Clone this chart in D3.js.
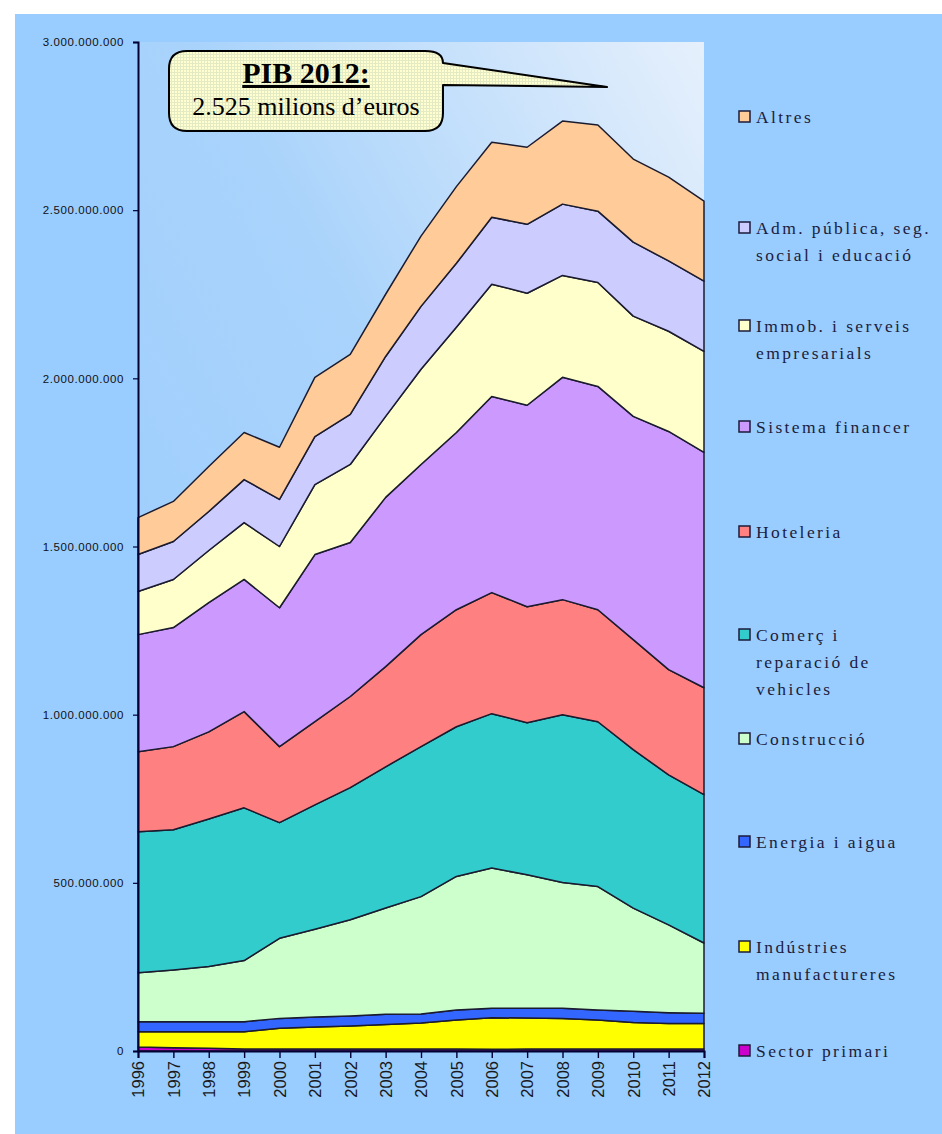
<!DOCTYPE html>
<html><head><meta charset="utf-8">
<script src="https://cdn.jsdelivr.net/npm/d3@7"></script>
<style>html,body{margin:0;padding:0;background:#fff;}svg{display:block;}</style>
</head><body>
<script>
// ---- DATA (millions of euros) ----
const years = [1996,1997,1998,1999,2000,2001,2002,2003,2004,2005,2006,2007,2008,2009,2010,2011,2012];
const sectorPrimari   = [12,10,8,6,6,6,6,6,6,6,5,6,6,6,6,6,6];
const industries      = [45,47,49,51,62,65,68,73,77,86,94,92,91,86,79,76,76];
const energia         = [30,30,30,30,29,30,30,30,27,30,28,29,30,30,33,32,30];
const construccio     = [146,154,164,182,238,261,286,316,349,397,417,397,374,367,307,261,209];
const comerc          = [419,417,439,454,344,370,393,420,446,445,459,452,499,490,471,446,441];
const hoteleria       = [238,247,259,286,226,247,271,298,333,348,360,345,342,333,327,313,318];
const sistemaFinancer = [348,354,384,393,413,497,458,503,506,527,583,599,661,664,664,708,700];
const immob           = [128,143,155,169,182,208,232,241,283,313,334,333,303,309,298,298,300];
const admPublica      = [110,113,116,128,140,143,149,178,187,190,199,205,212,212,220,209,209];
const altres          = [110,119,134,140,155,176,178,185,209,228,223,229,247,256,247,249,238];

const seriesKeys = ["primari","industries","energia","construccio","comerc","hoteleria","sistema","immob","adm","altres"];
const seriesValues = [sectorPrimari,industries,energia,construccio,comerc,hoteleria,sistemaFinancer,immob,admPublica,altres];
const seriesColors = ["#CC00CC","#FFFF00","#3366FF","#CCFFCC","#33CCCC","#FF8080","#CC99FF","#FFFFCC","#CCCCFF","#FFCC99"];
const legendLabels = [
  ["Sector primari"],
  ["Indústries","manufactureres"],
  ["Energia i aigua"],
  ["Construcció"],
  ["Comerç i","reparació de","vehicles"],
  ["Hoteleria"],
  ["Sistema financer"],
  ["Immob. i serveis","empresarials"],
  ["Adm. pública, seg.","social i educació"],
  ["Altres"]
];
const yTicks = [0,500,1000,1500,2000,2500,3000];
const calloutTitle = "PIB 2012:";
const calloutText = "2.525 milions d\u2019euros";

// ---- LAYOUT ----
const W = 942, H = 1134;
const pLeft = 138, pRight = 704, pTop = 42, pBottom = 1051;

const svg = d3.select("body").append("svg").attr("width", W).attr("height", H);
const defs = svg.append("defs");

const grad = defs.append("linearGradient").attr("id","plotGrad")
  .attr("x1","0").attr("y1","1").attr("x2","1").attr("y2","0");
grad.append("stop").attr("offset","0").attr("stop-color","#99CCFF");
grad.append("stop").attr("offset","0.55").attr("stop-color","#a9d3fb");
grad.append("stop").attr("offset","1").attr("stop-color","#e6f0fc");

const pat = defs.append("pattern").attr("id","calloutPat").attr("patternUnits","userSpaceOnUse")
  .attr("width",3).attr("height",3);
pat.append("rect").attr("width",3).attr("height",3).attr("fill","#ffffcf");
pat.append("rect").attr("width",3).attr("height",1).attr("fill","#e4eac4");
pat.append("rect").attr("width",1).attr("height",3).attr("fill","#e4eac4");

// outer background
svg.append("rect").attr("x",15).attr("y",14).attr("width",W-15).attr("height",H-14).attr("fill","#99CCFF");
// plot area
svg.append("rect").attr("x",pLeft).attr("y",pTop).attr("width",pRight-pLeft).attr("height",pBottom-pTop).attr("fill","url(#plotGrad)");

const x = d3.scaleLinear().domain([1996,2012]).range([pLeft,pRight]);
const y = d3.scaleLinear().domain([0,3000]).range([pBottom,pTop]);

const table = years.map((yr,i) => {
  const o = {year: yr};
  seriesKeys.forEach((k,j) => o[k] = seriesValues[j][i]);
  return o;
});
const stacked = d3.stack().keys(seriesKeys)(table);

const area = d3.area().x(d => x(d.data.year)).y0(d => y(d[0])).y1(d => y(d[1]));

svg.append("g").selectAll("path").data(stacked).join("path")
  .attr("d", area)
  .attr("fill", (d,i) => seriesColors[i])
  .attr("stroke", "#1b1b2f").attr("stroke-width", 1.5).attr("stroke-linejoin","round");

// axes
const loc = d3.formatLocale({decimal: ",", thousands: ".", grouping: [3], currency: ["","\u20ac"]});
const fmt = loc.format(",");

const yAxis = svg.append("g").attr("transform", `translate(${pLeft},0)`)
  .call(d3.axisLeft(y).tickValues(yTicks).tickSize(5).tickPadding(9).tickFormat(d => fmt(d*1e6)));
yAxis.select(".domain").attr("stroke","#000033").attr("stroke-width",2);
yAxis.selectAll(".tick line").attr("stroke","#000033").attr("stroke-width",1.2);
yAxis.selectAll("text").attr("font-family","Liberation Sans, Arial, sans-serif").attr("font-size","11.5px")
  .attr("letter-spacing","0.6px").attr("fill","#111");

const xAxis = svg.append("g").attr("transform", `translate(0,${pBottom})`)
  .call(d3.axisBottom(x).tickValues(years).tickSize(7).tickFormat(d3.format("d")));
xAxis.select(".domain").attr("stroke","#000033").attr("stroke-width",2);
xAxis.selectAll(".tick line").attr("stroke","#000033").attr("stroke-width",1.4);
xAxis.selectAll("text")
  .attr("font-family","Liberation Sans, Arial, sans-serif").attr("font-size","16.5px").attr("fill","#1a1a1a")
  .attr("transform","rotate(-90)").attr("text-anchor","end")
  .attr("x", -10).attr("y", 0).attr("dy","0.35em");

// legend
const legendBase = [1057,953,848,745,641,538,433,332,234,123];
const lg = svg.append("g");
legendLabels.forEach((lines,i) => {
  const b = legendBase[i];
  lg.append("rect").attr("x",739).attr("y",b-12).attr("width",11).attr("height",11)
    .attr("fill",seriesColors[i]).attr("stroke","#1b1b3a").attr("stroke-width",1.5);
  const t = lg.append("text").attr("x",756).attr("y",b)
    .attr("font-family","Liberation Serif, Times New Roman, serif").attr("font-size","17.5px")
    .attr("letter-spacing","2.4px").attr("fill","#1c1c3c");
  lines.forEach((ln,k) => t.append("tspan").attr("x",756).attr("y", b + k*27).text(ln));
});

// callout
const bx0 = 169, bx1 = 443, by0 = 51, by1 = 131, r = 18;
const tipX = 607, tipY = 87;
const cp = d3.path();
cp.moveTo(bx0 + r, by0);
cp.lineTo(bx1 - r, by0);
cp.quadraticCurveTo(bx1, by0, bx1, by0 + 12);
cp.lineTo(tipX, tipY);
cp.lineTo(bx1, by0 + 34);
cp.lineTo(bx1, by1 - r);
cp.quadraticCurveTo(bx1, by1, bx1 - r, by1);
cp.lineTo(bx0 + r, by1);
cp.quadraticCurveTo(bx0, by1, bx0, by1 - r);
cp.lineTo(bx0, by0 + r);
cp.quadraticCurveTo(bx0, by0, bx0 + r, by0);
cp.closePath();
svg.append("path").attr("d", cp.toString()).attr("fill","url(#calloutPat)")
  .attr("stroke","#000").attr("stroke-width",2).attr("stroke-linejoin","round");

svg.append("text").attr("x",306).attr("y",83).attr("text-anchor","middle")
  .attr("font-family","Liberation Serif, Times New Roman, serif").attr("font-size","30px").attr("font-weight","bold")
  .attr("text-decoration","underline").attr("fill","#000").text(calloutTitle);
svg.append("text").attr("x",306).attr("y",115).attr("text-anchor","middle")
  .attr("font-family","Liberation Serif, Times New Roman, serif").attr("font-size","26px")
  .attr("fill","#000").text(calloutText);
</script>
</body></html>
